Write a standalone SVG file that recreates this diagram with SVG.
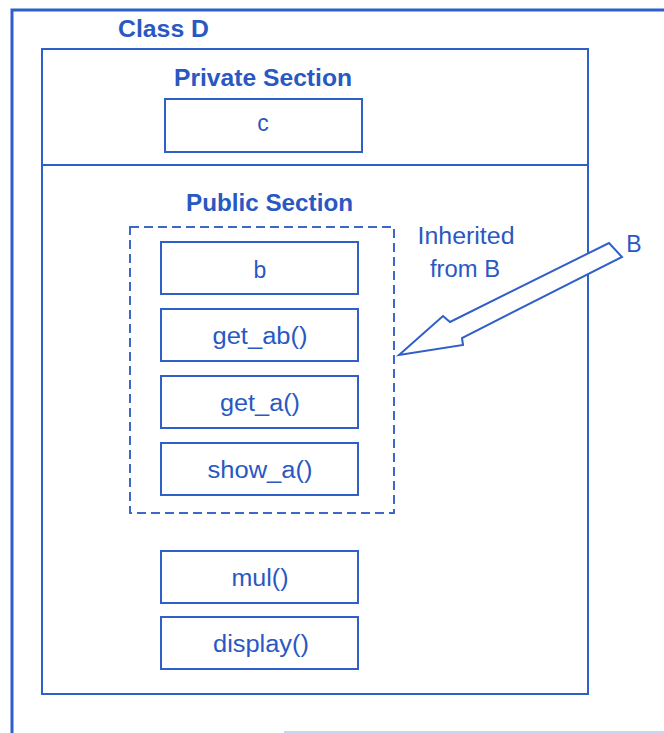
<svg xmlns="http://www.w3.org/2000/svg" width="664" height="733" viewBox="0 0 664 733">
<style>
.frame{fill:none;stroke:#2f5fc8;stroke-width:2}
.box{fill:#fff;stroke:#2f5fc8;stroke-width:2}
.dash{fill:none;stroke:#3a68cc;stroke-width:2;stroke-dasharray:9 5}
.hd{font-family:"Liberation Sans",Arial,sans-serif;font-weight:bold;font-size:23px;fill:#2a58c2}
.lb{font-family:"Liberation Sans",Arial,sans-serif;font-size:23px;fill:#2a58c2;text-anchor:middle}
</style>
<rect width="664" height="733" fill="#fff"/>
<g id="outer">
<path d="M12,733 V10 H664" fill="none" stroke="#2f5fc8" stroke-width="3"/>
<line x1="284" y1="732" x2="664" y2="732" stroke="#c9d6f1" stroke-width="2"/>
<text class="hd" x="118" y="37" textLength="91" lengthAdjust="spacingAndGlyphs">Class D</text>
</g>
<g id="classD">
<rect class="frame" x="42" y="49" width="546" height="645"/>
<line x1="42" y1="165" x2="588" y2="165" stroke="#2f5fc8" stroke-width="2"/>
<text class="hd" x="174" y="86" textLength="178" lengthAdjust="spacingAndGlyphs">Private Section</text>
<text class="hd" x="186" y="211" textLength="167" lengthAdjust="spacingAndGlyphs">Public Section</text>
</g>
<g id="c">
<rect class="box" x="165" y="99" width="197" height="53"/>
<text class="lb" x="263" y="131">c</text>
</g>
<g id="inherited">
<rect class="dash" x="130" y="227" width="264" height="286"/>
<text class="lb" x="466" y="244" textLength="97" lengthAdjust="spacingAndGlyphs">Inherited</text>
<text class="lb" x="465" y="277" textLength="70" lengthAdjust="spacingAndGlyphs">from B</text>
</g>
<g id="b">
<rect class="box" x="161" y="242" width="197" height="52"/>
<text class="lb" x="260" y="278">b</text>
</g>
<g id="get_ab">
<rect class="box" x="161" y="309" width="197" height="52"/>
<text class="lb" x="260" y="344" textLength="95" lengthAdjust="spacingAndGlyphs">get_ab()</text>
</g>
<g id="get_a">
<rect class="box" x="161" y="376" width="197" height="52"/>
<text class="lb" x="260" y="411" textLength="80" lengthAdjust="spacingAndGlyphs">get_a()</text>
</g>
<g id="show_a">
<rect class="box" x="161" y="443" width="197" height="52"/>
<text class="lb" x="260" y="478" textLength="105" lengthAdjust="spacingAndGlyphs">show_a()</text>
</g>
<g id="mul">
<rect class="box" x="161" y="551" width="197" height="52"/>
<text class="lb" x="260" y="586" textLength="57" lengthAdjust="spacingAndGlyphs">mul()</text>
</g>
<g id="display">
<rect class="box" x="161" y="617" width="197" height="52"/>
<text class="lb" x="261" y="652" textLength="96" lengthAdjust="spacingAndGlyphs">display()</text>
</g>
<g id="connectors">
<polygon points="399,355 443,316 450,322 609,243 622,257 462,338 463,345" fill="#fff" stroke="#2f5fc8" stroke-width="2" stroke-linejoin="miter"/>
</g>
<g id="B">
<text class="lb" x="634" y="252">B</text>
</g>
</svg>
